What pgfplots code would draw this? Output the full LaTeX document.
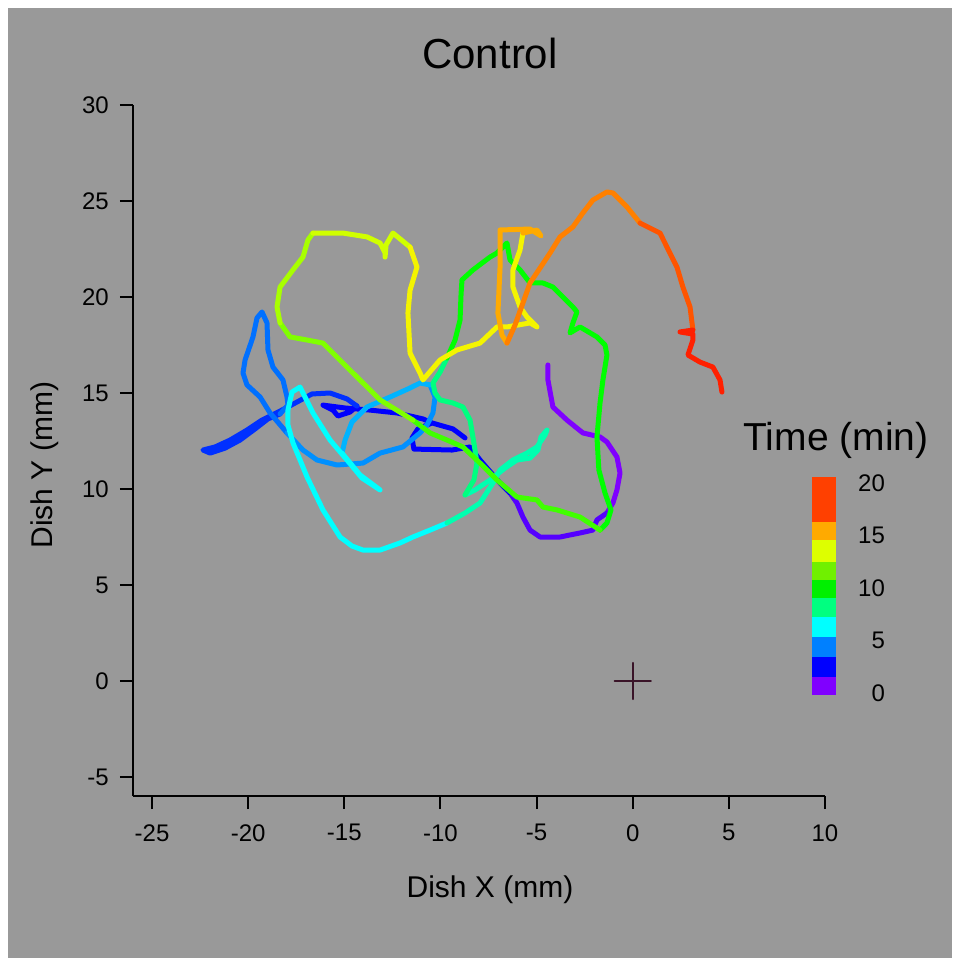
\documentclass[border=0pt]{standalone}
\usepackage{fontspec}
\setmainfont{Liberation Sans}
\usepackage{pgfplots}
\pgfplotsset{compat=1.18}

\definecolor{bg}{HTML}{999999}
\definecolor{crossc}{HTML}{3A1428}
% track colours, in time order
\definecolor{tv1}{HTML}{7F00FF}
\definecolor{tv2}{HTML}{5500FF}
\definecolor{tb1}{HTML}{0000FF}
\definecolor{tb2}{HTML}{0030FF}
\definecolor{ta1}{HTML}{0070FF}
\definecolor{ta2}{HTML}{0090FF}
\definecolor{ta3}{HTML}{00B4FF}
\definecolor{tc}{HTML}{00FFFF}
\definecolor{ts1}{HTML}{00FFB0}
\definecolor{ts2}{HTML}{00FF80}
\definecolor{tg1}{HTML}{00FF00}
\definecolor{tg2}{HTML}{40FF00}
\definecolor{tch1}{HTML}{80FF00}
\definecolor{tch2}{HTML}{A8FF00}
\definecolor{tch3}{HTML}{D0FF00}
\definecolor{ty}{HTML}{F4F400}
\definecolor{to1}{HTML}{FFAA00}
\definecolor{to2}{HTML}{FF8000}
\definecolor{tr1}{HTML}{FF5500}
\definecolor{tr2}{HTML}{FF2000}
% colour bar bands
\definecolor{cb0}{HTML}{8000FF}
\definecolor{cb1}{HTML}{0000FF}
\definecolor{cb2}{HTML}{0080FF}
\definecolor{cb3}{HTML}{00FFFF}
\definecolor{cb4}{HTML}{00FF80}
\definecolor{cb5}{HTML}{00F000}
\definecolor{cb6}{HTML}{70F000}
\definecolor{cb7}{HTML}{DDFF00}
\definecolor{cb8}{HTML}{FFAA00}
\definecolor{cb9}{HTML}{FF4000}

\begin{document}
\begin{tikzpicture}
\fill[white] (0,0) rectangle (480pt,483pt);
\fill[bg] (4pt,4pt) rectangle (476pt,479pt);

\begin{axis}[
    at={(66.4pt,84.9pt)}, anchor=south west,
    scale only axis, width=346.1pt, height=345.6pt,
    xmin=-26, xmax=10, ymin=-6, ymax=30,
    axis x line=bottom, axis y line=left,
    axis line style={-, line width=1pt, black},
    xtick={-25,-20,...,10}, ytick={-5,0,...,30},
    tick align=outside, major tick length=6.5pt,
    tick style={line width=1pt, black},
    tick label style={font=\fontsize{12}{14}\selectfont},
    xticklabel style={yshift=-4pt},
    yticklabel style={xshift=-2pt},
    /pgf/number format/assume math mode=true,
    every axis plot/.append style={line width=2.5pt, line cap=round, line join=round},
]
% 0-2 min
\addplot[tv1] coordinates {(-4.41,16.46) (-4.41,15.68) (-4.15,14.27) (-3.42,13.59) (-2.59,12.92) (-1.70,12.71) (-1.34,12.45) (-0.82,11.67) (-0.66,10.83) (-0.82,9.95) (-1.03,9.27) (-1.34,8.75)};
\addplot[tv2] coordinates {(-1.34,8.75) (-1.86,8.39) (-2.07,7.86) (-2.74,7.71) (-3.78,7.50) (-4.82,7.50) (-5.34,7.86) (-5.71,8.54) (-6.02,9.27) (-6.38,9.79)};
% 2-4 min
\addplot[tb1] coordinates {(-6.38,9.79) (-6.90,10.31) (-7.94,11.51) (-8.46,12.19) (-9.40,12.03) (-11.38,12.08) (-11.48,12.66) (-11.17,13.13) (-10.44,13.44) (-9.35,13.13) (-8.72,12.66) (-9.35,13.13) (-10.44,13.44) (-10.91,13.65) (-12.26,13.96) (-13.66,14.11) (-14.96,14.22) (-16.11,14.37) (-15.59,14.11) (-15.33,13.80) (-14.70,14.01) (-14.34,14.32)};
\addplot[tb2] coordinates {(-14.34,14.32) (-14.86,14.69) (-15.74,15.00) (-16.68,14.95) (-17.46,14.53) (-18.34,14.06) (-19.28,13.59) (-20.06,13.07) (-20.94,12.55) (-21.72,12.19) (-22.35,12.03) (-21.98,11.87) (-21.20,12.13) (-20.42,12.55) (-19.64,13.13) (-18.97,13.65) (-18.34,13.91)};
% 4-6 min
\addplot[ta1] coordinates {(-18.34,13.91) (-17.93,14.37) (-17.98,14.79) (-18.19,15.68) (-18.71,16.35) (-18.97,17.24) (-19.02,18.65) (-19.28,19.22) (-19.54,18.91) (-19.75,17.92) (-20.16,16.72) (-20.27,16.04) (-20.06,15.42) (-19.38,14.79) (-18.86,13.96) (-17.98,12.92)};
\addplot[ta2] coordinates {(-17.98,12.92) (-17.15,12.03) (-16.42,11.51) (-15.38,11.25) (-14.03,11.35) (-13.14,11.87) (-11.95,12.19) (-11.06,12.92) (-10.70,13.33) (-10.39,13.96) (-10.28,14.79) (-10.54,15.42)};
\addplot[ta3] coordinates {(-10.54,15.42) (-11.06,15.52) (-11.58,15.26) (-12.62,14.79) (-13.82,14.27) (-14.60,13.49) (-14.96,12.55) (-15.12,11.87)};
% 6-8 min
\addplot[tc] coordinates {(-15.12,11.87) (-14.18,10.73) (-13.14,9.95) (-14.08,10.57) (-14.86,11.51) (-15.74,12.55) (-16.63,13.96) (-17.30,15.31) (-17.72,15.05) (-17.93,14.11) (-17.93,13.33) (-17.67,12.40) (-17.30,11.51) (-16.94,10.63) (-16.11,8.91) (-15.22,7.50) (-14.60,7.03) (-14.03,6.82) (-13.14,6.82) (-12.10,7.19) (-11.43,7.50) (-10.54,7.86) (-9.66,8.23)};
% 8-10 min
\addplot[ts1] coordinates {(-9.66,8.23) (-8.72,8.75) (-7.94,9.27) (-7.27,10.31) (-6.90,10.99) (-6.23,11.51) (-5.50,11.87) (-4.98,12.19) (-4.56,12.81) (-4.46,13.07) (-4.77,12.71) (-4.93,12.03) (-5.34,11.61) (-6.02,11.51) (-6.64,11.09) (-7.42,10.47) (-8.20,9.95) (-8.72,9.69)};
\addplot[ts2] coordinates {(-8.72,9.69) (-8.26,10.47) (-8.10,11.35) (-8.26,12.40) (-8.46,13.59) (-8.83,14.27) (-9.35,14.48) (-10.02,14.64) (-10.28,15.00) (-10.39,15.52) (-10.02,16.09) (-9.66,16.82)};
% 10-12 min
\addplot[tg1] coordinates {(-9.66,16.82) (-9.24,17.76) (-8.98,18.80) (-8.93,20.10) (-8.88,20.89) (-8.31,21.41) (-7.42,22.08) (-7.06,22.29) (-6.54,22.81) (-6.38,21.93) (-5.86,21.41) (-5.34,20.73) (-4.67,20.73) (-4.15,20.52) (-3.63,20.00) (-3.11,19.48) (-2.90,19.22) (-3.11,18.65) (-3.26,18.13) (-2.74,18.44) (-1.86,17.92) (-1.44,17.50) (-1.34,16.98) (-1.55,15.68) (-1.70,14.48) (-1.86,12.71) (-1.76,10.99) (-1.44,9.79) (-1.13,8.91) (-1.34,8.23) (-1.70,7.86)};
\addplot[tg2] coordinates {(-1.70,7.86) (-2.74,8.54) (-3.94,8.91) (-4.67,9.06) (-4.98,9.43) (-6.02,9.58) (-7.06,10.47) (-7.94,11.35) (-8.83,12.19) (-9.66,12.55) (-10.54,12.92) (-11.43,13.59)};
% 12-14 min
\addplot[tch1] coordinates {(-11.43,13.59) (-13.14,14.64) (-14.86,16.35) (-16.11,17.60) (-16.94,17.76) (-17.82,17.92) (-18.34,18.65)};
\addplot[tch2] coordinates {(-18.34,18.65) (-18.50,19.48) (-18.34,20.52) (-17.67,21.41) (-17.15,22.08) (-16.89,22.97) (-16.63,23.33)};
\addplot[tch3] coordinates {(-16.63,23.33) (-15.07,23.33) (-13.82,23.13) (-13.14,22.81) (-12.88,22.29) (-12.88,22.08) (-12.83,22.71) (-12.47,23.33) (-11.58,22.60)};
\addplot[ty] coordinates {(-11.58,22.60) (-11.22,21.56) (-11.58,20.36) (-11.69,19.17) (-11.58,17.08) (-11.06,16.04) (-10.91,15.68) (-10.02,16.72) (-9.14,17.24) (-7.94,17.60) (-7.06,18.44) (-6.54,18.44) (-5.34,18.65) (-4.98,18.44) (-5.50,18.96) (-5.86,19.48) (-6.23,20.52) (-6.23,21.41) (-5.86,22.45) (-5.71,23.33)};
% 14-17 min
\addplot[to1] coordinates {(-5.71,23.33) (-4.98,23.49) (-4.77,23.18) (-5.34,23.54) (-6.90,23.49) (-6.90,21.56) (-7.01,19.17) (-6.80,18.02) (-6.54,17.60)};
\addplot[to2] coordinates {(-6.54,17.60) (-6.12,18.54) (-5.34,20.73) (-4.30,22.29) (-3.78,23.13) (-3.11,23.65) (-2.59,24.38) (-2.07,25.05) (-1.34,25.47) (-1.03,25.42) (-0.30,24.69) (0.38,23.85)};
% 17-20 min
\addplot[tr1] coordinates {(0.38,23.85) (1.42,23.33) (1.78,22.60) (2.30,21.56) (2.61,20.52) (2.98,19.48) (3.13,18.28)};
\addplot[tr2] coordinates {(3.13,18.28) (2.46,18.18) (3.13,18.07) (3.13,17.76) (2.87,16.98) (3.50,16.61) (4.17,16.35) (4.54,15.68) (4.64,15.05)};
% dish centre
\addplot[only marks, mark=+, mark size=9pt, crossc, line width=1.2pt] coordinates {(0,0)};
\end{axis}

% colour scale for time
\begin{axis}[
    at={(406pt,135.5pt)}, anchor=south west,
    scale only axis, width=12pt, height=109pt,
    xmin=0, xmax=1, ymin=-0.19, ymax=20.57,
    hide x axis,
    axis y line*=right, y axis line style={draw=none},
    ytick={0,5,...,20}, major tick length=0pt,
    yticklabel pos=right,
    yticklabel style={anchor=east, xshift=28pt, font=\fontsize{12}{14}\selectfont},
    /pgf/number format/assume math mode=true,
]
\addplot[fill=cb0, draw=none] coordinates {(0,-0.19) (1,-0.19) (1,1.52) (0,1.52)};
\addplot[fill=cb1, draw=none] coordinates {(0,1.52) (1,1.52) (1,3.43) (0,3.43)};
\addplot[fill=cb2, draw=none] coordinates {(0,3.43) (1,3.43) (1,5.33) (0,5.33)};
\addplot[fill=cb3, draw=none] coordinates {(0,5.33) (1,5.33) (1,7.24) (0,7.24)};
\addplot[fill=cb4, draw=none] coordinates {(0,7.24) (1,7.24) (1,9.05) (0,9.05)};
\addplot[fill=cb5, draw=none] coordinates {(0,9.05) (1,9.05) (1,10.76) (0,10.76)};
\addplot[fill=cb6, draw=none] coordinates {(0,10.76) (1,10.76) (1,12.48) (0,12.48)};
\addplot[fill=cb7, draw=none] coordinates {(0,12.48) (1,12.48) (1,14.57) (0,14.57)};
\addplot[fill=cb8, draw=none] coordinates {(0,14.57) (1,14.57) (1,16.29) (0,16.29)};
\addplot[fill=cb9, draw=none] coordinates {(0,16.29) (1,16.29) (1,20.57) (0,20.57)};
\end{axis}

\node[font=\fontsize{21}{24}\selectfont] at (245pt,456.5pt) {Control};
\node[font=\fontsize{15}{18}\selectfont] at (245pt,38pt) {Dish X (mm)};
\node[font=\fontsize{15}{18}\selectfont, rotate=90] at (22.5pt,250.5pt) {Dish Y (mm)};
\node[font=\fontsize{19.5}{22}\selectfont] at (418pt,263pt) {Time (min)};
\end{tikzpicture}
\end{document}
